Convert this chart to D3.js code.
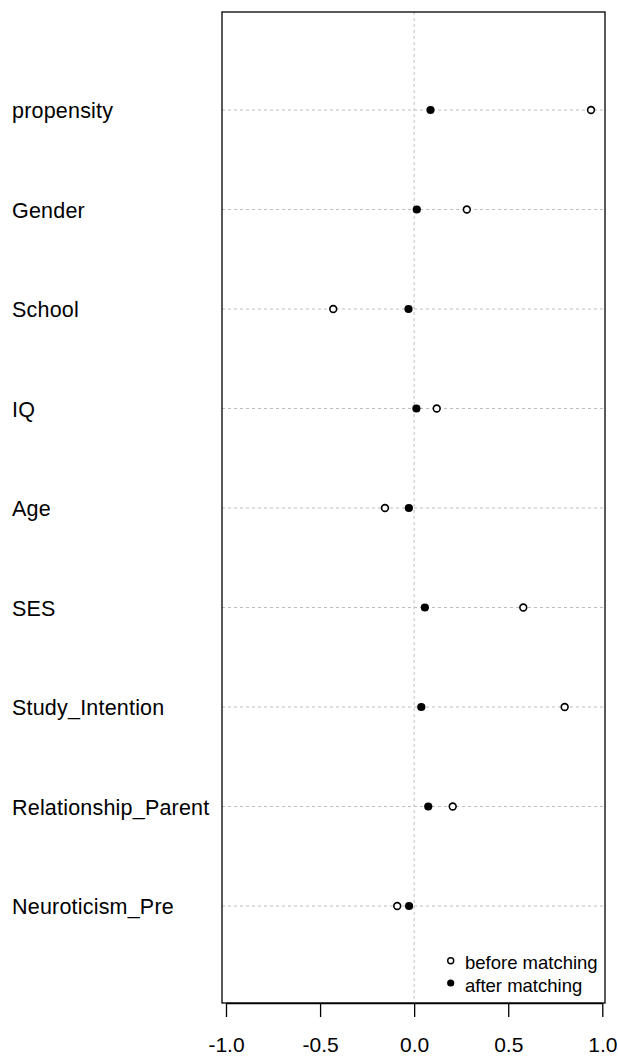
<!DOCTYPE html>
<html><head><meta charset="utf-8">
<script src="https://cdn.jsdelivr.net/npm/d3@7"></script>
<style>html,body{margin:0;padding:0;background:#fff;}svg{display:block;}</style>
</head><body>
<script>
const categories = ["propensity","Gender","School","IQ","Age","SES","Study_Intention","Relationship_Parent","Neuroticism_Pre"];
const beforeValues = [0.94, 0.28, -0.43, 0.12, -0.155, 0.58, 0.80, 0.205, -0.09];
const afterValues  = [0.087, 0.014, -0.03, 0.012, -0.028, 0.057, 0.038, 0.075, -0.027];
const xTicks = [-1.0, -0.5, 0.0, 0.5, 1.0];
const legendLabels = ["before matching", "after matching"];

const W = 618, H = 1059;
const box = {left: 222, right: 605, top: 12, bottom: 1003};
const font = "'Liberation Sans', Arial, sans-serif";

const svg = d3.select("body").append("svg").attr("width", W).attr("height", H);

const x = d3.scaleLinear().domain([-1, 1]).range([226, 602.3]);
const n = categories.length;
const y = d3.scaleLinear().domain([1, n]).range([906, 110]);
const rowY = (i) => y(n - i);

// grid lines
svg.append("g").selectAll("line").data(categories).join("line")
  .attr("x1", box.left).attr("x2", box.right)
  .attr("y1", (d, i) => rowY(i)).attr("y2", (d, i) => rowY(i))
  .attr("stroke", "#bebebe").attr("stroke-width", 1).attr("stroke-dasharray", "3,3");

svg.append("line")
  .attr("x1", x(0)).attr("x2", x(0)).attr("y1", box.top).attr("y2", box.bottom)
  .attr("stroke", "#bebebe").attr("stroke-width", 1).attr("stroke-dasharray", "3,3");

// box
svg.append("rect").attr("x", box.left).attr("y", box.top)
  .attr("width", box.right - box.left).attr("height", box.bottom - box.top)
  .attr("fill", "none").attr("stroke", "#000").attr("stroke-width", 1.3);

// row labels
svg.append("g").selectAll("text").data(categories).join("text")
  .attr("x", 12).attr("y", (d, i) => rowY(i) + 8)
  .attr("font-family", font).attr("font-size", 21.5).attr("letter-spacing", 0.2).attr("fill", "#000")
  .text(d => d);

// x axis
const axis = d3.axisBottom(x).tickValues(xTicks).tickFormat(d3.format(".1f")).tickSize(14).tickPadding(20);
const ag = svg.append("g").attr("transform", `translate(0,${box.bottom})`).call(axis);
ag.select(".domain").attr("d", `M${x(-1)},0.5H${x(1)}`).attr("stroke", "#000").attr("stroke-width", 1.3);
ag.selectAll(".tick line").attr("stroke", "#000").attr("stroke-width", 1.3);
ag.selectAll(".tick text").attr("font-family", font).attr("font-size", 21).attr("fill", "#000")
  .text(d => d3.format(".1f")(d).replace("−", "-"));

// points
svg.append("g").selectAll("circle").data(beforeValues).join("circle")
  .attr("cx", d => x(d)).attr("cy", (d, i) => rowY(i)).attr("r", 3.4)
  .attr("fill", "#fff").attr("stroke", "#000").attr("stroke-width", 1.6);
svg.append("g").selectAll("circle").data(afterValues).join("circle")
  .attr("cx", d => x(d)).attr("cy", (d, i) => rowY(i)).attr("r", 4.1)
  .attr("fill", "#000");

// legend
const lg = svg.append("g");
legendLabels.forEach((lab, i) => {
  const ly = 962.7 + i * 22.3;
  lg.append("circle").attr("cx", 450.7).attr("cy", ly - 2).attr("r", i === 0 ? 3 : 3.6)
    .attr("fill", i === 0 ? "#fff" : "#000").attr("stroke", i === 0 ? "#000" : "none").attr("stroke-width", 1.4);
  lg.append("text").attr("x", 465).attr("y", ly + 6.5)
    .attr("font-family", font).attr("font-size", 18.5).attr("fill", "#000").text(lab);
});
</script>
</body></html>
